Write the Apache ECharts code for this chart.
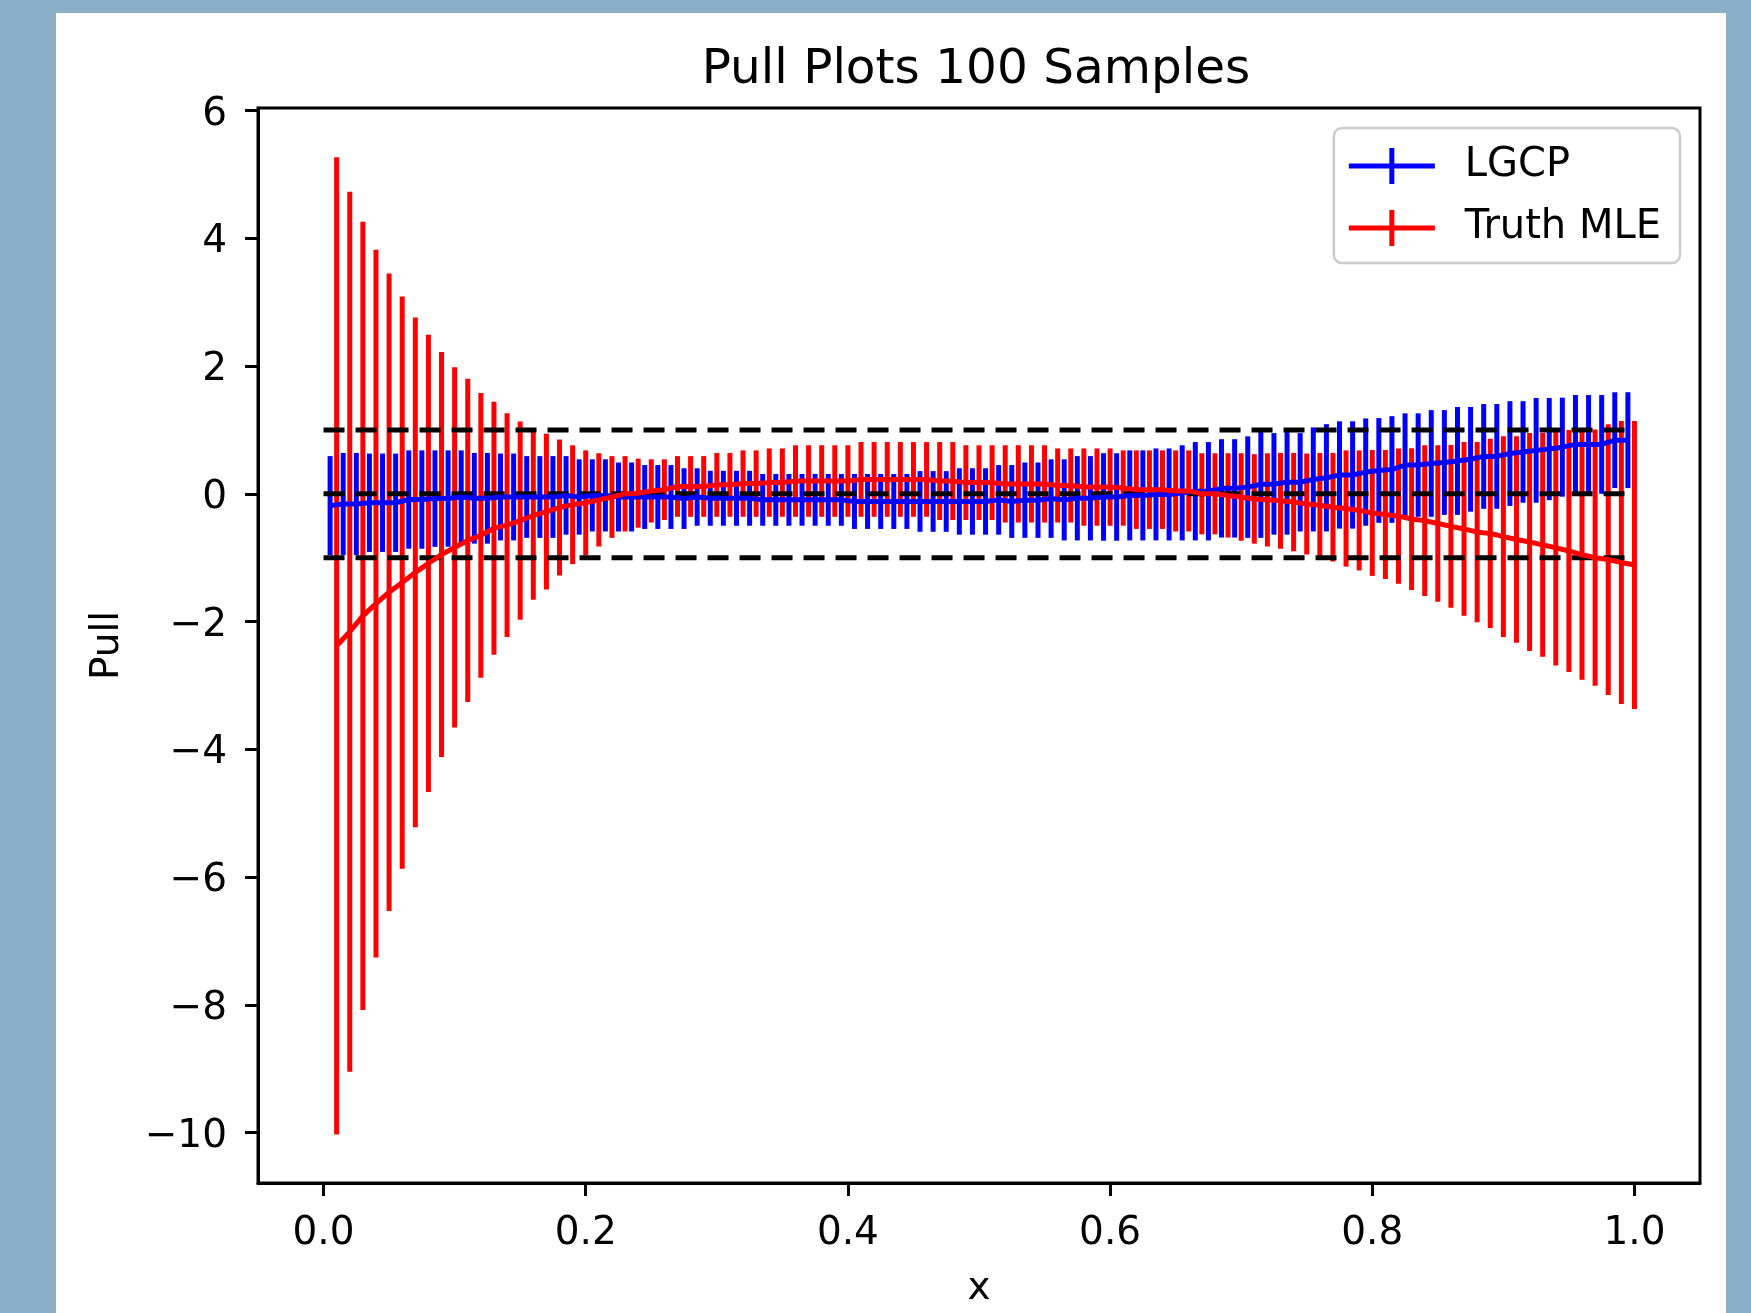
<!DOCTYPE html>
<html>
<head>
<meta charset="utf-8">
<script src="https://cdn.jsdelivr.net/npm/echarts@6/dist/echarts.min.js"></script>
<style>
  html, body { margin: 0; padding: 0; background: #8aafc7; }
  #chart { width: 1751px; height: 1313px; }
</style>
</head>
<body>
<div id="chart"></div>
<script>
// ---------------- data ----------------
const titleText = 'Pull Plots 100 Samples';
const xName = 'x';
const yName = 'Pull';
const seriesNames = ['LGCP', 'Truth MLE'];

// Truth MLE (red): x, centre value, symmetric error
const redX = [0.01,0.02,0.03,0.04,0.05,0.06,0.07,0.08,0.09,0.10,
  0.11,0.12,0.13,0.14,0.15,0.16,0.17,0.18,0.19,0.20,
  0.21,0.22,0.23,0.24,0.25,0.26,0.27,0.28,0.29,0.30,
  0.31,0.32,0.33,0.34,0.35,0.36,0.37,0.38,0.39,0.40,
  0.41,0.42,0.43,0.44,0.45,0.46,0.47,0.48,0.49,0.50,
  0.51,0.52,0.53,0.54,0.55,0.56,0.57,0.58,0.59,0.60,
  0.61,0.62,0.63,0.64,0.65,0.66,0.67,0.68,0.69,0.70,
  0.71,0.72,0.73,0.74,0.75,0.76,0.77,0.78,0.79,0.80,
  0.81,0.82,0.83,0.84,0.85,0.86,0.87,0.88,0.89,0.90,
  0.91,0.92,0.93,0.94,0.95,0.96,0.97,0.98,0.99,1.00];
const redY = [-2.38,-2.16,-1.91,-1.72,-1.54,-1.39,-1.23,-1.09,-0.95,-0.84,
  -0.73,-0.65,-0.54,-0.49,-0.42,-0.34,-0.28,-0.215,-0.17,-0.14,
  -0.095,-0.05,0.0,0.01,0.045,0.065,0.115,0.115,0.115,0.14,
  0.14,0.16,0.16,0.175,0.175,0.2,0.2,0.2,0.2,0.2,
  0.225,0.225,0.225,0.225,0.225,0.225,0.2,0.2,0.175,0.175,
  0.175,0.155,0.155,0.155,0.155,0.13,0.13,0.105,0.105,0.105,
  0.09,0.065,0.065,0.065,0.045,0.045,0.0,0.0,-0.025,-0.05,
  -0.08,-0.095,-0.11,-0.13,-0.16,-0.18,-0.21,-0.23,-0.26,-0.30,
  -0.325,-0.35,-0.395,-0.42,-0.465,-0.51,-0.55,-0.60,-0.62,-0.67,
  -0.715,-0.755,-0.80,-0.845,-0.895,-0.955,-1.0,-1.03,-1.075,-1.115];
const redErr = [7.65,6.89,6.17,5.54,4.99,4.48,3.99,3.58,3.17,2.82,
  2.53,2.23,1.98,1.75,1.55,1.32,1.22,1.065,0.93,0.82,
  0.73,0.64,0.59,0.54,0.495,0.475,0.475,0.475,0.475,0.50,
  0.50,0.52,0.52,0.535,0.535,0.56,0.56,0.56,0.56,0.56,
  0.585,0.585,0.585,0.585,0.585,0.585,0.61,0.61,0.585,0.585,
  0.585,0.605,0.605,0.605,0.605,0.58,0.58,0.605,0.605,0.605,
  0.59,0.615,0.615,0.615,0.635,0.635,0.635,0.635,0.66,0.685,
  0.70,0.73,0.75,0.77,0.79,0.82,0.85,0.91,0.94,0.985,
  1.01,1.06,1.11,1.18,1.225,1.275,1.36,1.41,1.48,1.57,
  1.615,1.705,1.75,1.845,1.895,1.955,2.005,2.12,2.215,2.255];

// LGCP (blue): x, centre value, symmetric error
const blueX = [0.005,0.015,0.025,0.035,0.045,0.055,0.065,0.075,0.085,0.095,
  0.105,0.115,0.125,0.135,0.145,0.155,0.165,0.175,0.185,0.195,
  0.205,0.215,0.225,0.235,0.245,0.255,0.265,0.275,0.285,0.295,
  0.305,0.315,0.325,0.335,0.345,0.355,0.365,0.375,0.385,0.395,
  0.405,0.415,0.425,0.435,0.445,0.455,0.465,0.475,0.485,0.495,
  0.505,0.515,0.525,0.535,0.545,0.555,0.565,0.575,0.585,0.595,
  0.605,0.615,0.625,0.635,0.645,0.655,0.665,0.675,0.685,0.695,
  0.705,0.715,0.725,0.735,0.745,0.755,0.765,0.775,0.785,0.795,
  0.805,0.815,0.825,0.835,0.845,0.855,0.865,0.875,0.885,0.895,
  0.905,0.915,0.925,0.935,0.945,0.955,0.965,0.975,0.985,0.995];
const blueY = [-0.185,-0.16,-0.16,-0.14,-0.14,-0.14,-0.09,-0.09,-0.075,-0.075,
  -0.05,-0.07,-0.07,-0.05,-0.05,-0.05,-0.05,-0.05,-0.025,-0.05,
  -0.025,-0.025,-0.05,-0.05,-0.05,-0.05,-0.05,-0.075,-0.05,-0.07,
  -0.07,-0.07,-0.07,-0.095,-0.095,-0.095,-0.095,-0.095,-0.095,-0.095,
  -0.12,-0.12,-0.12,-0.12,-0.12,-0.12,-0.12,-0.12,-0.12,-0.12,
  -0.12,-0.095,-0.12,-0.10,-0.10,-0.075,-0.095,-0.07,-0.07,-0.05,
  -0.05,-0.025,-0.025,-0.01,-0.01,0.015,0.04,0.04,0.085,0.085,
  0.105,0.15,0.155,0.18,0.18,0.225,0.25,0.295,0.295,0.34,
  0.365,0.38,0.45,0.45,0.475,0.49,0.515,0.54,0.585,0.585,
  0.63,0.655,0.68,0.70,0.73,0.773,0.773,0.773,0.84,0.84];
const blueErr = [0.775,0.80,0.80,0.77,0.77,0.77,0.77,0.77,0.755,0.755,
  0.73,0.71,0.71,0.68,0.68,0.64,0.64,0.64,0.615,0.59,
  0.565,0.565,0.54,0.54,0.50,0.50,0.50,0.475,0.45,0.43,
  0.43,0.43,0.43,0.405,0.405,0.405,0.405,0.405,0.405,0.405,
  0.43,0.43,0.43,0.43,0.43,0.475,0.475,0.475,0.52,0.52,
  0.52,0.545,0.57,0.59,0.59,0.615,0.635,0.66,0.66,0.685,
  0.685,0.705,0.705,0.72,0.72,0.745,0.77,0.77,0.77,0.77,
  0.795,0.84,0.795,0.82,0.77,0.815,0.84,0.84,0.84,0.84,
  0.82,0.835,0.81,0.81,0.835,0.82,0.845,0.82,0.82,0.82,
  0.82,0.795,0.82,0.80,0.775,0.773,0.773,0.773,0.75,0.75];

// reference dashed lines
const refLevels = [1, 0, -1];
const refX = [0, 1];

// ticks
const xTicks = [0, 0.2, 0.4, 0.6, 0.8, 1.0];
const xTickLabels = ['0.0', '0.2', '0.4', '0.6', '0.8', '1.0'];
const yTicks = [-10, -8, -6, -4, -2, 0, 2, 4, 6];
const yTickLabels = ['\u221210', '\u22128', '\u22126', '\u22124', '\u22122', '0', '2', '4', '6'];

// ---------------- chart ----------------
const FONT = 'DejaVu Sans';
const BLUE = '#0000ff', RED = '#ff0000';
const chart = echarts.init(document.getElementById('chart'), null, { renderer: 'canvas' });

function errRender(color) {
  return function (params, api) {
    const x = api.value(0), y = api.value(1), e = api.value(2);
    const p1 = api.coord([x, y + e]);
    const p2 = api.coord([x, y - e]);
    return {
      type: 'line',
      shape: { x1: p1[0], y1: p1[1], x2: p2[0], y2: p2[1] },
      style: { stroke: color, lineWidth: 5, lineCap: 'butt' }
    };
  };
}

const legendIcon = 'path://M0,15.5L86,15.5L86,20.5L0,20.5Z M40.5,0L45.5,0L45.5,36L40.5,36Z';

const series = [
  {
    name: seriesNames[0], type: 'custom', z: 2,
    itemStyle: { color: BLUE },
    renderItem: errRender(BLUE),
    encode: { x: 0, y: 1 },
    data: blueX.map((x, i) => [x, blueY[i], blueErr[i]]),
    silent: true
  },
  {
    name: seriesNames[1], type: 'custom', z: 2,
    itemStyle: { color: RED },
    renderItem: errRender(RED),
    encode: { x: 0, y: 1 },
    data: redX.map((x, i) => [x, redY[i], redErr[i]]),
    silent: true
  }
];
refLevels.forEach(function (lvl) {
  series.push({
    type: 'line', z: 3, symbol: 'none', silent: true,
    lineStyle: { color: '#000', width: 5, type: [21, 11] },
    data: refX.map(x => [x, lvl])
  });
});
series.push({
  name: seriesNames[0], type: 'line', z: 4, symbol: 'none', silent: true,
  itemStyle: { color: BLUE },
  lineStyle: { color: BLUE, width: 5 },
  data: blueX.map((x, i) => [x, blueY[i]])
});
series.push({
  name: seriesNames[1], type: 'line', z: 5, symbol: 'none', silent: true,
  itemStyle: { color: RED },
  lineStyle: { color: RED, width: 5 },
  data: redX.map((x, i) => [x, redY[i]])
});

const option = {
  backgroundColor: '#8aafc7',
  animation: false,
  graphic: [{
    type: 'rect', z: -100, silent: true,
    shape: { x: 56, y: 13, width: 1670, height: 1310 },
    style: { fill: '#ffffff' }
  }],
  title: {
    text: titleText,
    left: 971, top: 41, textAlign: 'center',
    textStyle: { fontFamily: FONT, fontSize: 48.5, fontWeight: 'normal', color: '#000' }
  },
  legend: {
    orient: 'vertical', right: 71, top: 128,
    padding: [18, 19, 15, 15],
    itemWidth: 86, itemHeight: 36, itemGap: 22,
    backgroundColor: 'rgba(255,255,255,0.8)',
    borderColor: '#cccccc', borderWidth: 2.5, borderRadius: 8,
    selectedMode: false,
    textStyle: { fontFamily: FONT, fontSize: 40, color: '#000', padding: [0, 0, 0, 25] },
    data: [
      { name: seriesNames[0], icon: legendIcon, itemStyle: { color: BLUE } },
      { name: seriesNames[1], icon: legendIcon, itemStyle: { color: RED } }
    ]
  },
  grid: {
    left: 258, right: 51, top: 108, bottom: 129,
    show: true, borderColor: '#000', borderWidth: 3, backgroundColor: 'transparent'
  },
  xAxis: {
    type: 'value', min: -0.05, max: 1.05,
    name: xName, nameLocation: 'middle', nameGap: 86,
    nameTextStyle: { fontFamily: FONT, fontSize: 39, color: '#000' },
    axisLine: { show: true, onZero: false, lineStyle: { color: '#000', width: 3 } },
    axisTick: { show: true, length: 13, customValues: xTicks, lineStyle: { color: '#000', width: 3 } },
    axisLabel: {
      customValues: xTicks, margin: 31, fontFamily: FONT, fontSize: 39, color: '#000',
      formatter: function (v) { const i = xTicks.findIndex(t => Math.abs(t - v) < 1e-9); return i >= 0 ? xTickLabels[i] : ''; }
    },
    splitLine: { show: false }
  },
  yAxis: {
    type: 'value', min: -10.79, max: 6.04,
    name: yName, nameLocation: 'middle', nameGap: 131, nameRotate: 90,
    nameTextStyle: { fontFamily: FONT, fontSize: 39, color: '#000' },
    axisLine: { show: true, onZero: false, lineStyle: { color: '#000', width: 3 } },
    axisTick: { show: true, length: 13, customValues: yTicks, lineStyle: { color: '#000', width: 3 } },
    axisLabel: {
      customValues: yTicks, margin: 31, fontFamily: FONT, fontSize: 39, color: '#000',
      formatter: function (v) { const i = yTicks.findIndex(t => Math.abs(t - v) < 1e-9); return i >= 0 ? '{t|' + yTickLabels[i] + '}' : ''; },
      rich: { t: { fontFamily: FONT, fontSize: 39, color: '#000', padding: [8, 0, 0, 0] } }
    },
    splitLine: { show: false }
  },
  series: series
};
chart.setOption(option);
</script>
</body>
</html>
